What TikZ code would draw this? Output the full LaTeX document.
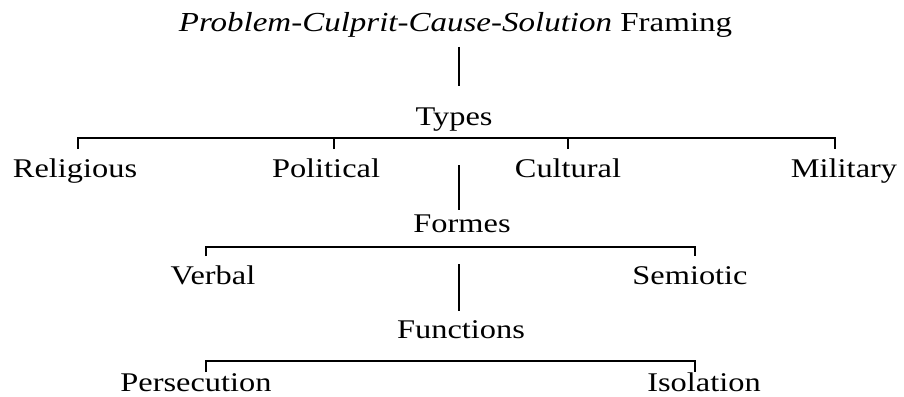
\documentclass[tikz,border=0pt]{standalone}
\usepackage{fontspec}
\setmainfont{Liberation Serif}[FakeStretch=1.2]
\begin{document}
\begin{tikzpicture}[x=1pt,y=-1pt,
  lbl/.style={anchor=base,inner sep=0pt,font=\fontsize{27}{32}\selectfont},
  conn/.style={line width=1.4pt,line cap=butt}]
\useasboundingbox (0,0) rectangle (904,396);
% labels
\node[lbl,font=\fontsize{27.5}{32}\selectfont] (title) at (455.5,32) {\textit{Problem-Culprit-Cause-Solution} Framing};
\node[lbl] (types) at (454,125) {Types};
\node[lbl] (rel) at (75,177) {Religious};
\node[lbl] (pol) at (326,177) {Political};
\node[lbl] (cul) at (568,177) {Cultural};
\node[lbl] (mil) at (844,177) {Military};
\node[lbl] (formes) at (462,232) {Formes};
\node[lbl] (verbal) at (213,284) {Verbal};
\node[lbl] (semi) at (690,284) {Semiotic};
\node[lbl] (func) at (461,338) {Functions};
\node[lbl] (pers) at (196,391) {Persecution};
\node[lbl] (iso) at (704,391) {Isolation};
% connector points
\coordinate (v1a) at (459,47);  \coordinate (v1b) at (459,86);
\coordinate (v2a) at (459,165); \coordinate (v2b) at (459,210);
\coordinate (v3a) at (459,264); \coordinate (v3b) at (459,311);
\coordinate (r1) at (78,149);  \coordinate (p1) at (334,149);
\coordinate (c1) at (568,149); \coordinate (m1) at (835,149);
\coordinate (vb) at (206,256); \coordinate (sb) at (695,256);
\coordinate (pb) at (206,372); \coordinate (ib) at (695,372);
% connectors
\draw[conn] (v1a) -- (v1b);
\draw[conn] (v2a) -- (v2b);
\draw[conn] (v3a) -- (v3b);
\draw[conn] (r1) -- (78,138) -- (835,138) -- (m1);
\draw[conn] (p1) -- (334,138);
\draw[conn] (c1) -- (568,138);
\draw[conn] (vb) -- (206,247) -- (695,247) -- (sb);
\draw[conn] (pb) -- (206,361) -- (695,361) -- (ib);
\end{tikzpicture}
\end{document}
